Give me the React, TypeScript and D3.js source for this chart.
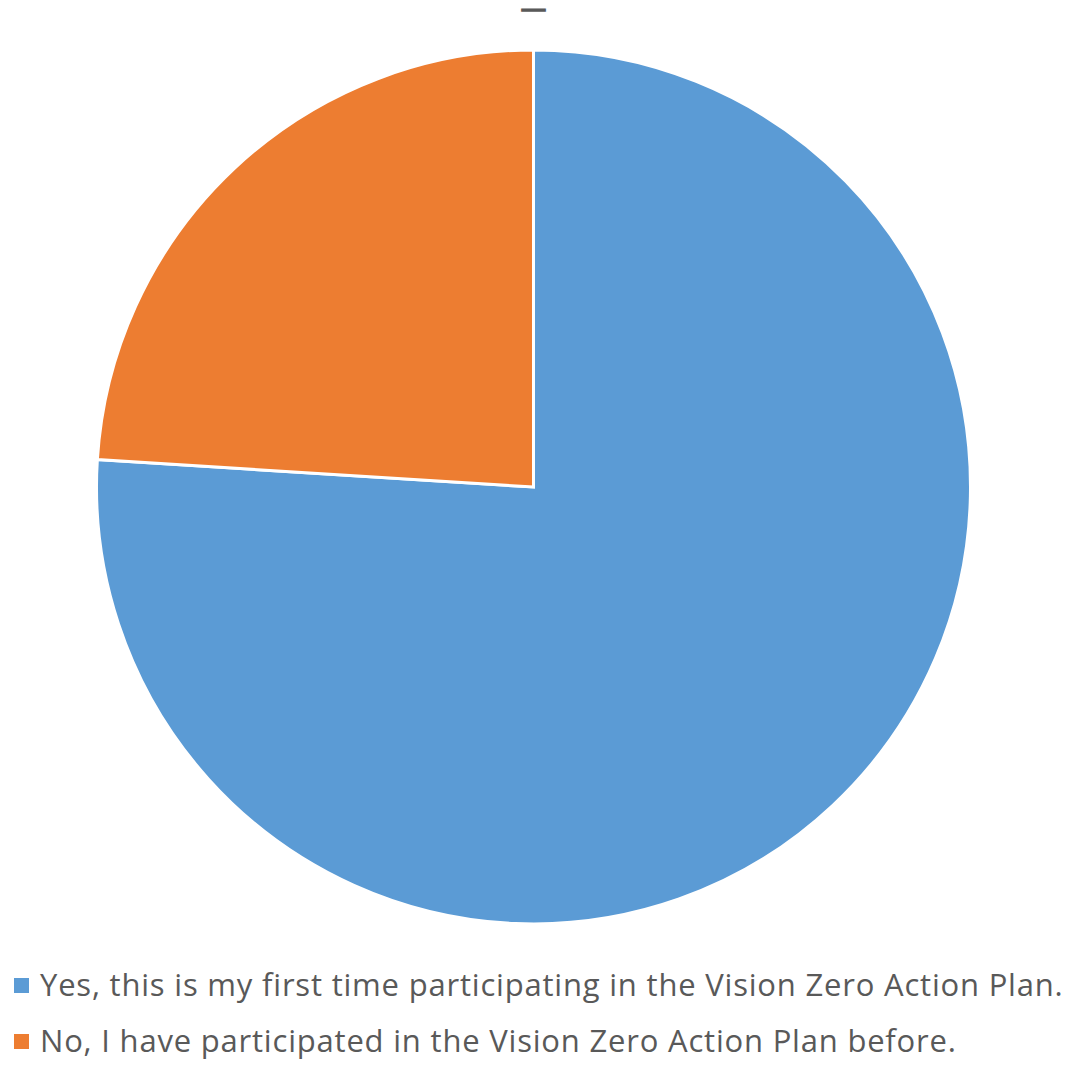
import * as d3 from "d3";
import { useEffect, useRef } from "react";

const categories = [
    "Yes, this is my first time participating in the Vision Zero Action Plan.",
    "No, I have participated in the Vision Zero Action Plan before.",
];
const values = [76, 24];
const colors = ["#5B9BD5", "#ED7D31"];
const title = "—";

const App = () => {
    const svgRef = useRef<SVGSVGElement>(null);
    const width = 1067;
    const height = 1065;
    const cx = 533.5;
    const cy = 487;
    const radius = 437;

    useEffect(() => {
        if (svgRef.current) {
            drawChart();
        }
    }, [svgRef]);

    const drawChart = () => {
        const svg = d3.select(svgRef.current);
        svg.selectAll("*").remove();

        // Title (just a dash in the original)
        svg.append("text")
            .attr("x", cx)
            .attr("y", 14)
            .attr("text-anchor", "middle")
            .attr("font-family", "Open Sans, sans-serif")
            .attr("font-size", 14)
            .attr("font-weight", "bold")
            .attr("fill", "#595959")
            .attr("stroke", "#595959")
            .attr("stroke-width", 1.6)
            .attr("textLength", 24)
            .attr("lengthAdjust", "spacingAndGlyphs")
            .text(title);

        const pie = d3
            .pie<number>()
            .sort(null)
            .value((d) => d);
        const arc = d3.arc<d3.PieArcDatum<number>>().innerRadius(0).outerRadius(radius);

        const chart = svg
            .append("g")
            .attr("transform", "translate(" + cx + "," + cy + ")");

        chart
            .selectAll("path")
            .data(pie(values))
            .enter()
            .append("path")
            .attr("d", arc)
            .attr("fill", (d, i) => colors[i])
            .attr("stroke", "#ffffff")
            .attr("stroke-width", 3)
            .attr("stroke-linejoin", "miter");

        // Legend
        const legend = svg
            .append("g")
            .selectAll("g")
            .data(categories)
            .enter()
            .append("g")
            .attr("transform", (d, i) => "translate(14," + (985 + i * 56) + ")");

        legend
            .append("rect")
            .attr("x", 0)
            .attr("y", -7)
            .attr("width", 15)
            .attr("height", 15)
            .attr("fill", (d, i) => colors[i]);

        legend
            .append("text")
            .attr("x", 26)
            .attr("y", 0)
            .attr("dy", "0.35em")
            .attr("font-family", "Open Sans, sans-serif")
            .attr("font-size", 31)
            .attr("letter-spacing", 0.8)
            .attr("fill", "#595959")
            .text((d) => d);
    };

    return (
        <svg
            ref={svgRef}
            width={width}
            height={height}
            style={{ position: "absolute", left: 0, top: 0 }}
        />
    );
};

export default App;
